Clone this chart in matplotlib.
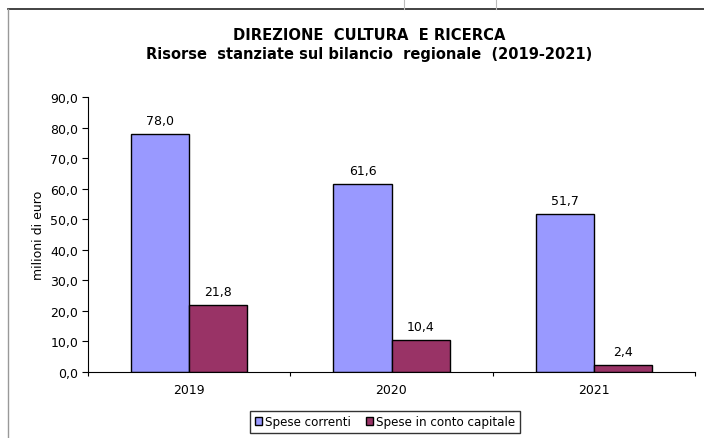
import matplotlib
matplotlib.use("Agg")
import matplotlib.pyplot as plt
import numpy as np
from matplotlib.lines import Line2D

years = ["2019", "2020", "2021"]
spese_correnti = [78.0, 61.6, 51.7]
spese_capitale = [21.8, 10.4, 2.4]
series_names = ["Spese correnti", "Spese in conto capitale"]
yticks = [0, 10, 20, 30, 40, 50, 60, 70, 80, 90]

plt.rcParams['font.family'] = ['DejaVu Sans']

fig = plt.figure(figsize=(7.04, 4.39), dpi=100)
ax = fig.add_axes([88/704, 1 - 373/439, (695-88)/704, (373-98)/439])

x = np.arange(len(years))
w = 0.287
b1 = ax.bar(x - w/2, spese_correnti, w, color="#9999FF", edgecolor="black", linewidth=1.0, label=series_names[0])
b2 = ax.bar(x + w/2, spese_capitale, w, color="#993366", edgecolor="black", linewidth=1.0, label=series_names[1])

for bars, vals in ((b1, spese_correnti), (b2, spese_capitale)):
    for r, v in zip(bars, vals):
        ax.annotate(f"{v:.1f}".replace(".", ","), (r.get_x() + r.get_width()/2, v),
                    xytext=(0, 5), textcoords="offset points", ha="center", va="bottom", fontsize=9)

ax.set_xlim(-0.5, 2.5)
ax.set_ylim(0, 90)
ax.set_yticks(yticks)
ax.set_yticklabels([f"{t:.1f}".replace(".", ",") for t in yticks], fontsize=9)
ax.set_xticks([-0.5, 0.5, 1.5, 2.5], minor=False)
ax.set_xticklabels([])
ax.set_xticks(x, minor=True)
ax.set_xticklabels(years, minor=True, fontsize=9)
ax.tick_params(axis="x", which="minor", length=0, pad=8)
ax.tick_params(axis="x", which="major", length=3, direction="out")
ax.tick_params(axis="y", length=4, direction="out", pad=3)
ax.spines["top"].set_visible(False)
ax.spines["right"].set_visible(False)
ax.set_ylabel("milioni di euro", fontsize=9, labelpad=4)

fig.text(0.525, 1 - 35/439, "DIREZIONE  CULTURA  E RICERCA", ha="center", va="center", fontsize=10.6, fontweight="bold")
fig.text(0.525, 1 - 54/439, "Risorse  stanziate sul bilancio  regionale  (2019-2021)", ha="center", va="center", fontsize=10.5, fontweight="bold")

leg = fig.legend(handles=[b1, b2], loc="center", bbox_to_anchor=(385/704, 1 - 423/439), ncol=2,
                 fontsize=8.6, frameon=True, fancybox=False, edgecolor="black", handlelength=0.6,
                 handleheight=0.6, handletextpad=0.3, columnspacing=1.2, borderpad=0.35)
leg.get_frame().set_linewidth(1.0)

# spreadsheet frame lines
fig.add_artist(Line2D([8/704, 1], [1 - 10/439, 1 - 10/439], color="#222222", lw=1.2, transform=fig.transFigure))
fig.add_artist(Line2D([8/704, 8/704], [0, 1 - 10/439], color="#999999", lw=1.0, transform=fig.transFigure))
for xx in (404, 496):
    fig.add_artist(Line2D([xx/704, xx/704], [1 - 10/439, 1], color="#bbbbbb", lw=0.8, transform=fig.transFigure))

fig.savefig("out.png", dpi=100)
